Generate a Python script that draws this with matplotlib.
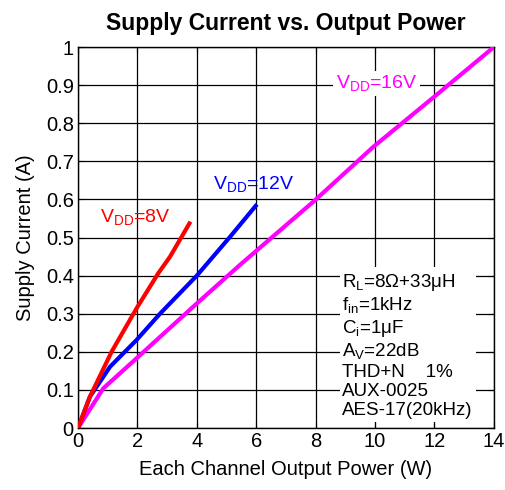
import numpy as np
import matplotlib
matplotlib.use("Agg")
import matplotlib.pyplot as plt

plt.rcParams['font.family'] = ['Liberation Sans', 'DejaVu Sans']
plt.rcParams['mathtext.fontset'] = 'custom'
plt.rcParams['mathtext.rm'] = 'Liberation Sans'
plt.rcParams['mathtext.it'] = 'Liberation Sans'

# supply current vs output power
p_8v = [0, 0.40, 1.13, 1.97, 2.70, 3.10, 3.75]
i_8v = [0, 0.082, 0.200, 0.314, 0.406, 0.450, 0.537]

p_12v = [0, 0.40, 1.08, 1.97, 2.76, 4.00, 5.12, 5.98]
i_12v = [0, 0.082, 0.161, 0.231, 0.300, 0.400, 0.502, 0.583]

p_16v = [0, 0.85, 1.97, 4.00, 5.45, 7.98, 9.94, 12.0, 14.0]
i_16v = [0, 0.104, 0.183, 0.327, 0.428, 0.598, 0.738, 0.870, 1.0]

xticks = [0, 2, 4, 6, 8, 10, 12, 14]
yticks = [0, 0.1, 0.2, 0.3, 0.4, 0.5, 0.6, 0.7, 0.8, 0.9, 1]
ytick_labels = ['0', '0.1', '0.2', '0.3', '0.4', '0.5', '0.6', '0.7', '0.8', '0.9', '1']

conditions = [r'R$_\mathregular{L}$=8Ω+33μH',
              r'f$_\mathregular{in}$=1kHz',
              r'C$_\mathregular{i}$=1μF',
              r'A$_\mathregular{V}$=22dB',
              'THD+N    1%',
              'AUX-0025',
              'AES-17(20kHz)']

fig = plt.figure(figsize=(5.05, 4.9), dpi=100)
ax = fig.add_axes([0.1545, 0.1265, 0.8235, 0.7775])

ax.plot(p_16v, i_16v, color='#ff00ff', lw=3, zorder=3)
ax.plot(p_12v, i_12v, color='#0000ff', lw=3, zorder=3)
ax.plot(p_8v, i_8v, color='#ff0000', lw=3, zorder=3)

ax.set_xlim(0, 14)
ax.set_ylim(0, 1)
ax.set_xticks(xticks)
ax.set_yticks(yticks)
ax.set_yticklabels(ytick_labels)
ax.tick_params(direction='in', top=True, right=True, labelsize=14.5, length=4, pad=3)
ax.grid(True, color='black', lw=0.9)
ax.set_axisbelow(True)
for s in ax.spines.values():
    s.set_linewidth(1)

ax.set_xlabel('Each Channel Output Power (W)', fontsize=14.5, labelpad=6)
ax.set_ylabel('Supply Current (A)', fontsize=14.5, labelpad=8)
ax.set_title('Supply Current vs. Output Power', fontsize=16.5, fontweight='bold', pad=12)

ax.text(0.74, 0.554, r'V$_\mathregular{DD}$=8V', color='#ff0000', fontsize=14,
        va='center', ha='left', zorder=4)
ax.text(4.55, 0.64, r'V$_\mathregular{DD}$=12V', color='#0000ff', fontsize=14,
        va='center', ha='left', zorder=4)
ax.text(8.69, 0.905, r'V$_\mathregular{DD}$=16V', color='#ff00ff', fontsize=14,
        va='center', ha='left', zorder=4,
        bbox=dict(facecolor='white', edgecolor='none', pad=2))

ax.text(8.9, 0.41, '\n'.join(conditions), fontsize=13.5, va='top', ha='left',
        linespacing=1.17, zorder=4,
        bbox=dict(facecolor='white', edgecolor='none', pad=2))

fig.savefig('out.png', dpi=100)
